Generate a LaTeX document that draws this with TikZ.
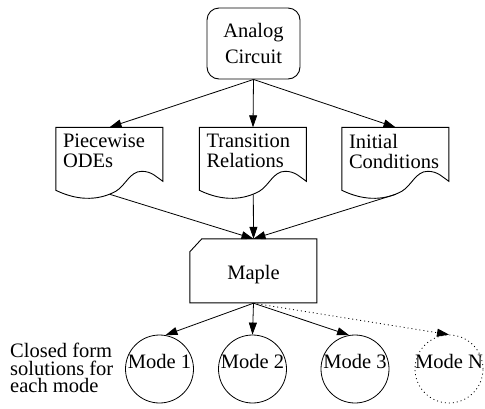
\documentclass[tikz,border=0pt]{standalone}
\usepackage{fontspec}
\setmainfont{Liberation Serif}
\usetikzlibrary{arrows.meta}
\newcommand\liftbox[2]{\raisebox{#1}[0pt][0pt]{#2}}
\newcommand\docoutline[1]{%
  \begin{scope}[shift={(#1.north west)}]
    \draw[outl] (0,0) -- (107,0) -- (107,54)
      .. controls (101,50) and (96,44) .. (86,44)
      .. controls (74,44) and (70,58) .. (60,64)
      .. controls (45,72) and (25,75) .. (0,63) -- cycle;
    \coordinate (#1-out) at (54,67);
  \end{scope}}
\begin{document}
\begin{tikzpicture}[x=1pt,y=-1pt,
  every node/.style={font=\fontsize{20.5}{20}\selectfont},
  outl/.style={draw, line width=0.9pt},
  docbox/.style={rectangle, minimum width=107pt, minimum height=63pt, inner sep=0pt},
  doctext/.style={anchor=north west, inner sep=0pt, align=left, font=\fontsize{20.5}{20}\selectfont},
  mode/.style={circle, draw, line width=0.8pt, minimum size=68pt, inner sep=0pt},
  arr/.style={line width=0.8pt, -{Triangle[length=12pt,width=8pt]}},
]
\useasboundingbox (0,0) rectangle (485,408);

% Analog circuit
\node[draw, line width=0.9pt, rounded corners=12pt, minimum width=93pt, minimum height=71pt,
  inner sep=0pt, align=center, font=\fontsize{20.5}{26}\selectfont] (ac) at (253.5,43.5) {Analog\\Circuit};

% documents
\node[docbox] (pw) at (109.5,159) {};
\node[docbox] (tr) at (253,159) {};
\node[docbox] (ic) at (395.5,159) {};
\docoutline{pw}
\docoutline{tr}
\docoutline{ic}
\node[doctext] (pwt) at ([xshift=7pt,yshift=-6.5pt]pw.north west) {Piecewise\\ODEs};
\node[doctext] (trt) at ([xshift=7pt,yshift=-6.5pt]tr.north west) {Transition\\Relations};
\node[doctext] (ict) at ([xshift=7pt,yshift=-6.5pt]ic.north west) {Initial\\Conditions};

% Maple
\node[rectangle, minimum width=127pt, minimum height=64pt, inner sep=0pt] (mp) at (253.5,271) {\liftbox{-8pt}{Maple}};
\begin{scope}[shift={(mp.north west)}]
  \draw[outl] (0,13) -- (0,64) -- (127,64) -- (127,0) -- (12,0) -- cycle;
\end{scope}

% modes
\node[mode] (m1) at (159.5,369) {\liftbox{1pt}{Mode 1}};
\node[mode] (m2) at (252.5,369) {\liftbox{1pt}{Mode 2}};
\node[mode] (m3) at (355,369) {\liftbox{1pt}{Mode 3}};
\node[mode, dash pattern=on 1pt off 3pt] (mN) at (449,369) {\liftbox{1pt}{Mode N}};

\node[anchor=north west, inner sep=0pt, align=left, font=\fontsize{20.5}{17.5}\selectfont] (cf) at (10,343)
  {Closed form\\solutions for\\each mode};

% connectors
\draw[arr] (ac.south) -- (pw.north);
\draw[arr] (ac.south) -- (tr.north);
\draw[arr] (ac.south) -- (ic.north);
\draw[arr] (pw-out) -- (mp.north);
\draw[arr] (tr-out) -- (mp.north);
\draw[arr] (ic-out) -- (mp.north);
\draw[arr] (mp.south) -- (m1.80);
\draw[arr] (mp.south) -- (m2.north);
\draw[arr] (mp.south) -- (m3.100);
\draw[arr, dash pattern=on 1pt off 3pt] (mp.south) -- (mN.north);
\end{tikzpicture}
\end{document}
